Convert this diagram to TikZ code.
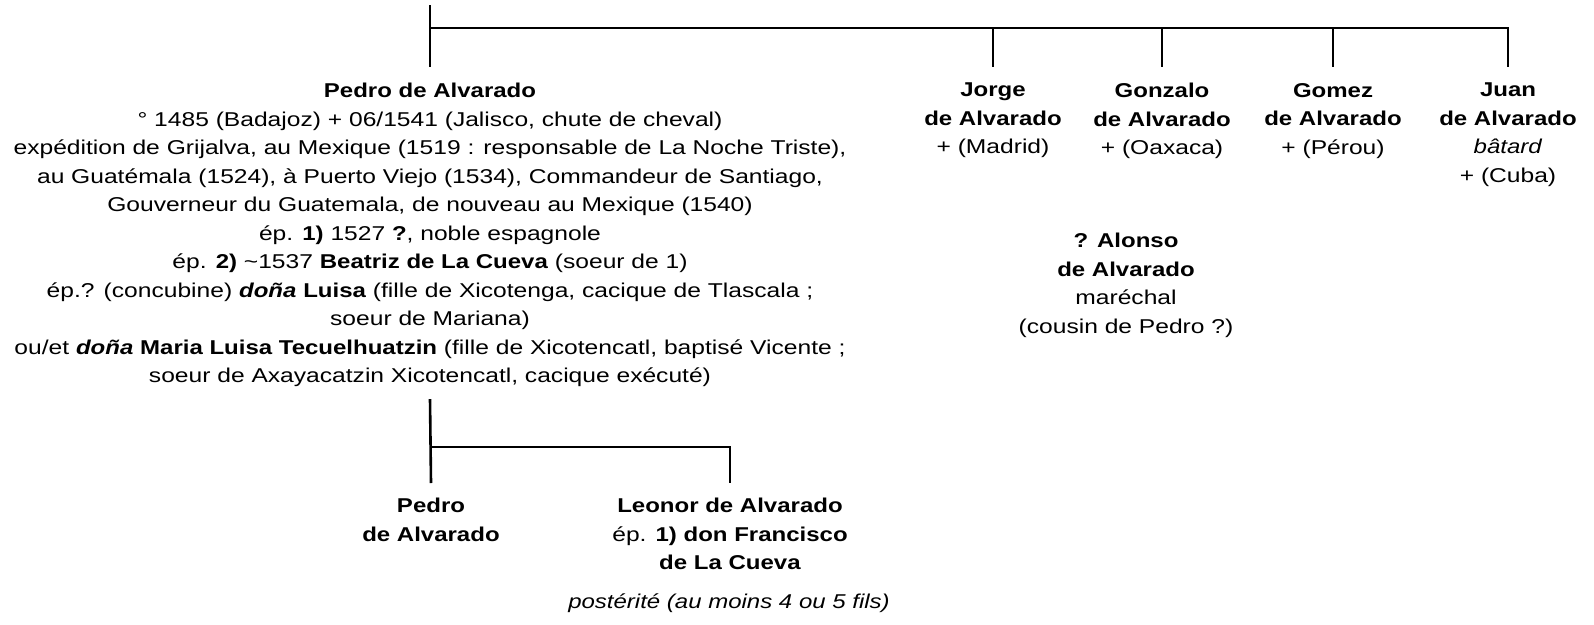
\documentclass[tikz,border=0pt]{standalone}
\usepackage{fontspec}
\setmainfont{Liberation Sans}[
  UprightFeatures={FakeStretch=1.23},
  BoldFeatures={FakeStretch=1.2},
  ItalicFeatures={FakeStretch=1.2},
  BoldItalicFeatures={FakeStretch=1.2}]
\usepackage{tikz}
\usetikzlibrary{calc,positioning}
\tikzset{
  person/.style={align=center,inner sep=0pt,anchor=north},
  famline/.style={line width=2.6pt},
  every node/.style={font=\fontsize{20}{28.5}\selectfont}
}

\begin{document}
\begin{tikzpicture}[x=1pt,y=-1pt]
\useasboundingbox (0,0) rectangle (1594,624);
% Pedro and his brothers
\node[person] (pedro) at (430,83) {\textbf{Pedro de Alvarado}\\
° 1485 (Badajoz) + 06/1541 (Jalisco, chute de cheval)\\
expédition de Grijalva, au Mexique (1519 : responsable de La Noche Triste),\\
au Guatémala (1524), à Puerto Viejo (1534), Commandeur de Santiago,\\
Gouverneur du Guatemala, de nouveau au Mexique (1540)\\
ép. \textbf{1)} 1527 \textbf{?}, noble espagnole\\
ép. \textbf{2)} \textasciitilde1537 \textbf{Beatriz de La Cueva} (soeur de 1)\\
ép.? (concubine) \textbf{\textit{doña}} \textbf{Luisa} (fille de Xicotenga, cacique de Tlascala ;\\
soeur de Mariana)\\
ou/et \textbf{\textit{doña}} \textbf{Maria Luisa Tecuelhuatzin} (fille de Xicotencatl, baptisé Vicente ;\\
soeur de Axayacatzin Xicotencatl, cacique exécuté)};
\node[person] (jorge) at (993,83) {\textbf{Jorge}\\\textbf{de Alvarado}\\+ (Madrid)};
\node[person] (gonzalo) at (1162,83) {\textbf{Gonzalo}\\\textbf{de Alvarado}\\+ (Oaxaca)};
\node[person] (gomez) at (1333,83) {\textbf{Gomez}\\\textbf{de Alvarado}\\+ (Pérou)};
\node[person] (juan) at (1508,83) {\textbf{Juan}\\\textbf{de Alvarado}\\\textit{bâtard}\\+ (Cuba)};
\node[person] (alonso) at (1126,233) {\textbf{? Alonso}\\\textbf{de Alvarado}\\maréchal\\(cousin de Pedro ?)};
% children
\node[person] (son) at (431,498) {\textbf{Pedro}\\\textbf{de Alvarado}};
\node[person] (leonor) at (730,498) {\textbf{Leonor de Alvarado}\\ép. \textbf{1) don Francisco}\\\textbf{de La Cueva}};
\node[person] (issue) at (729,594) {\textit{postérité (au moins 4 ou 5 fils)}};
% lines
\draw[famline] ([yshift=78pt]pedro.north) -- ([yshift=16pt]pedro.north);
\draw[famline] ([yshift=55pt]pedro.north) -| ([yshift=16pt]juan.north);
\foreach \k in {jorge,gonzalo,gomez}
  \draw[famline] ([yshift=55pt]\k.north) -- ([yshift=16pt]\k.north);
\draw[famline] ([yshift=-12pt]pedro.south) -- ([yshift=15pt]son.north);
\draw[famline] ([yshift=51pt]son.north) -| ([yshift=15pt]leonor.north);
\end{tikzpicture}
\end{document}
